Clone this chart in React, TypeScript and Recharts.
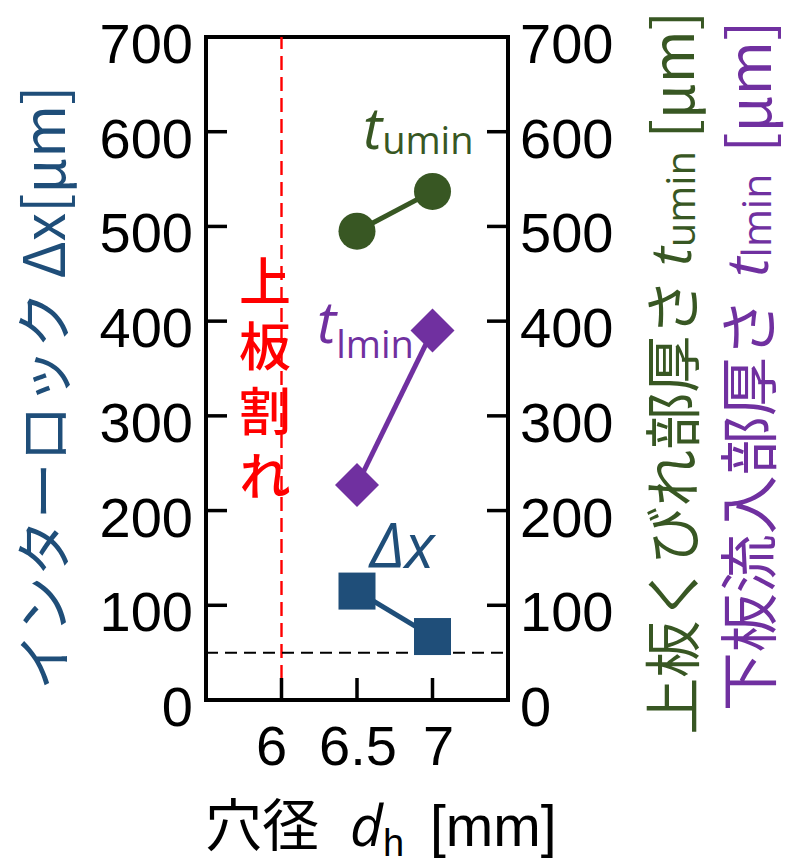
import React from "react";
import { ComposedChart, Line, XAxis, YAxis, ReferenceLine, ReferenceArea } from "recharts";

// hole diameter d_h [mm]
const diameters = [6.5, 7];
// interlock Δx [μm]
const interlock = [115, 67];
// upper sheet neck thickness t_umin [μm]
const upperNeck = [495, 537];
// lower sheet inflow thickness t_lmin [μm]
const lowerInflow = [227, 390];

const xTicks = [6, 6.5, 7];
const yTicks = [0, 100, 200, 300, 400, 500, 600, 700];
const xDomain = [5.5, 7.5];
const yDomain = [0, 700];
const crackLimit = 6; // 上板割れ
const interlockMin = 50;

const BLUE = "#1F4E79";
const GREEN = "#385723";
const PURPLE = "#7030A0";
const RED = "#FF0000";
const NUM_FONT = "'Liberation Sans', Arial, sans-serif";
const JP_FONT = "'Noto Sans CJK JP', sans-serif";
const ITAL_FONT = "'Open Sans', sans-serif";

const data = diameters.map((d, i) => ({
  d,
  dx: interlock[i],
  tu: upperNeck[i],
  tl: lowerInflow[i],
}));

const xLabelShift: Record<string, number> = { "6": -10, "6.5": 1, "7": 6 };

const LeftTick = (props: any) => {
  const { x, y, payload } = props;
  return (
    <g>
      <line x1={x} x2={x + 21} y1={y} y2={y} stroke="#000" strokeWidth={3.5} />
      <text x={x - 13} y={y + 26} textAnchor="end" fontSize={56} fontFamily={NUM_FONT} fill="#000">
        {payload.value}
      </text>
    </g>
  );
};

const RightTick = (props: any) => {
  const { x, y, payload } = props;
  return (
    <g>
      <line x1={x - 21} x2={x} y1={y} y2={y} stroke="#000" strokeWidth={3.5} />
      <text x={x + 12} y={y + 26} textAnchor="start" fontSize={56} fontFamily={NUM_FONT} fill="#000">
        {payload.value}
      </text>
    </g>
  );
};

const BottomTick = (props: any) => {
  const { x, y, payload } = props;
  const shift = xLabelShift[String(payload.value)] ?? 0;
  return (
    <g>
      <line x1={x} x2={x} y1={y} y2={y - 22} stroke="#000" strokeWidth={3.5} />
      <text x={x + shift} y={y + 65} textAnchor="middle" fontSize={56} fontFamily={NUM_FONT} fill="#000">
        {payload.value}
      </text>
    </g>
  );
};

const squareDot = (p: any) => (
  <rect key={`sq-${p.index}`} x={p.cx - 18.5} y={p.cy - 18.5} width={37} height={37} fill={BLUE} />
);
const circleDot = (p: any) => (
  <circle key={`ci-${p.index}`} cx={p.cx} cy={p.cy} r={18.5} fill={GREEN} />
);
const diamondDot = (p: any) => (
  <polygon
    key={`di-${p.index}`}
    points={`${p.cx},${p.cy - 22} ${p.cx + 22},${p.cy} ${p.cx},${p.cy + 22} ${p.cx - 22},${p.cy}`}
    fill={PURPLE}
  />
);

export default function App() {
  return (
    <div style={{ position: "absolute", left: 0, top: 0, background: "#fff" }}>
      <ComposedChart width={788} height={866} data={data} margin={{ top: 37, right: 0, bottom: 0, left: 0 }}>
        <XAxis
          dataKey="d"
          type="number"
          domain={xDomain}
          ticks={xTicks}
          height={166}
          tickSize={0}
          tickMargin={0}
          tick={<BottomTick />}
          axisLine={false}
          tickLine={false}
        />
        <YAxis
          yAxisId="left"
          type="number"
          domain={yDomain}
          ticks={yTicks}
          width={206}
          tickSize={0}
          tickMargin={0}
          tick={<LeftTick />}
          tickLine={false}
          axisLine={false}
        />
        <YAxis
          yAxisId="right"
          orientation="right"
          type="number"
          domain={yDomain}
          ticks={yTicks}
          width={280}
          tickSize={0}
          tickMargin={0}
          tick={<RightTick />}
          tickLine={false}
          axisLine={false}
        />
        <ReferenceArea
          yAxisId="left"
          x1={xDomain[0]}
          x2={xDomain[1]}
          y1={yDomain[0]}
          y2={yDomain[1]}
          fill="none"
          stroke="#000"
          strokeWidth={4}
          ifOverflow="visible"
        />
        <ReferenceLine yAxisId="left" x={crackLimit} stroke={RED} strokeWidth={2.4} strokeDasharray="14 7" />
        <ReferenceLine yAxisId="left" y={interlockMin} stroke="#000" strokeWidth={2} strokeDasharray="12 7" />
        <Line
          yAxisId="left"
          dataKey="dx"
          stroke={BLUE}
          strokeWidth={5}
          dot={squareDot}
          activeDot={false}
          isAnimationActive={false}
        />
        <Line
          yAxisId="right"
          dataKey="tl"
          stroke={PURPLE}
          strokeWidth={5}
          dot={diamondDot}
          activeDot={false}
          isAnimationActive={false}
        />
        <Line
          yAxisId="right"
          dataKey="tu"
          stroke={GREEN}
          strokeWidth={5}
          dot={circleDot}
          activeDot={false}
          isAnimationActive={false}
        />

        {/* in-plot labels */}
        <text x={363} y={149} fill={GREEN} fontFamily={ITAL_FONT}>
          <tspan fontSize={58} fontStyle="italic">t</tspan>
          <tspan fontSize={38} dy={5}>umin</tspan>
        </text>
        <text x={317} y={343} fill={PURPLE} fontFamily={ITAL_FONT}>
          <tspan fontSize={58} fontStyle="italic">t</tspan>
          <tspan fontSize={38} dy={15}>lmin</tspan>
        </text>
        <text x={370} y={568} fill={BLUE} fontFamily={ITAL_FONT} fontSize={62} fontStyle="italic">
          Δx
        </text>
        <text
          x={265}
          y={255}
          fill={RED}
          fontFamily={JP_FONT}
          fontSize={52}
          fontWeight={500}
          style={{ writingMode: "vertical-rl", letterSpacing: "13px" }}
        >
          上板割れ
        </text>

        {/* axis titles */}
        <text
          x={40}
          y={388}
          transform="rotate(-90, 40, 388)"
          textAnchor="middle"
          dominantBaseline="central"
          fill={BLUE}
          fontFamily={JP_FONT}
          fontSize={57}
        >
          インターロック Δx[μm]
        </text>
        <text
          x={669}
          y={373}
          transform="rotate(-90, 669, 373)"
          textAnchor="middle"
          dominantBaseline="central"
          fill={GREEN}
          fontFamily={JP_FONT}
          fontSize={57}
        >
          上板くびれ部厚さ <tspan fontFamily={ITAL_FONT} fontStyle="italic">t</tspan>
          <tspan fontFamily={ITAL_FONT} fontSize={40} dy={10}>umin</tspan>
          <tspan dy={-10}> [μm]</tspan>
        </text>
        <text
          x={745}
          y={366}
          transform="rotate(-90, 745, 366)"
          textAnchor="middle"
          dominantBaseline="central"
          fill={PURPLE}
          fontFamily={JP_FONT}
          fontSize={59}
        >
          下板流入部厚さ <tspan dx={8} fontFamily={ITAL_FONT} fontStyle="italic">t</tspan>
          <tspan fontFamily={ITAL_FONT} fontSize={41} dy={10}>lmin</tspan>
          <tspan dx={8} dy={-10}> [μm]</tspan>
        </text>
        <text y={846} fill="#000" fontSize={57}>
          <tspan x={205} fontFamily={JP_FONT}>穴径</tspan>
          <tspan x={350} fontFamily={ITAL_FONT} fontStyle="italic">d</tspan>
          <tspan fontFamily={NUM_FONT} fontSize={38} dy={10}>h</tspan>
          <tspan x={430} fontFamily={NUM_FONT} dy={-10}>[mm]</tspan>
        </text>
      </ComposedChart>
    </div>
  );
}
